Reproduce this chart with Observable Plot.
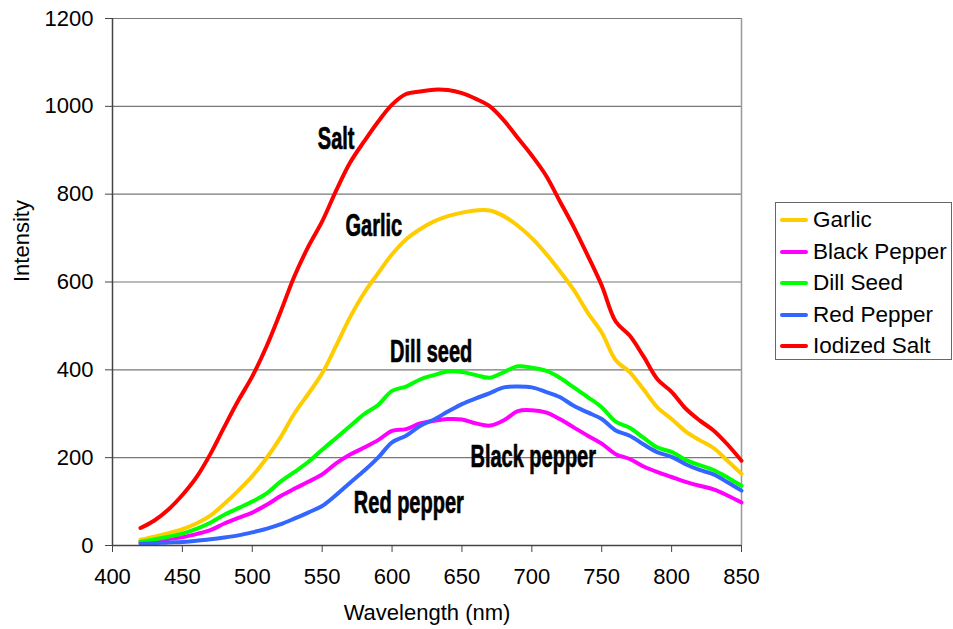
<!DOCTYPE html>
<html><head><meta charset="utf-8">
<script src="https://cdn.jsdelivr.net/npm/d3@7"></script>
<script src="https://cdn.jsdelivr.net/npm/@observablehq/plot@0.6"></script>
<style>
body{margin:0;background:#fff;}
#wrap{position:relative;width:953px;height:629px;font-family:"Liberation Sans",Arial,sans-serif;}
#legend{position:absolute;left:775px;top:202px;width:177px;height:158px;border:1px solid #666;box-sizing:border-box;background:#fff;}
.row{position:absolute;left:0;height:26px;display:flex;align-items:center;}
.sw{width:28px;height:4px;margin-left:4px;border-radius:2px;}
.lb{margin-left:5px;font-size:22.5px;color:#000;white-space:nowrap;}
</style>
</head><body>
<div id="wrap"></div>
<script>
const wavelengths = [420,430,440,450,460,470,480,490,500,510,520,530,540,550,560,570,580,590,600,610,620,630,640,650,660,670,680,690,700,710,720,730,740,750,760,770,780,790,800,810,820,830,840,850];
const garlic = [13,20,28,37,50,68,95,125,158,198,245,300,345,392,455,520,575,620,663,697,720,738,750,758,763,763,750,728,700,665,625,582,530,485,422,395,355,314,288,260,240,222,193,163];
const blackPepper = [8,11,15,19,26,35,50,63,75,92,112,129,145,162,187,207,223,240,261,265,278,284,288,287,278,273,285,306,308,303,288,269,250,232,208,197,180,167,156,145,136,128,114,98];
const dillSeed = [8,14,20,27,38,52,70,85,100,118,145,167,190,218,245,272,299,320,352,362,378,388,396,395,388,382,395,408,405,398,382,360,338,315,282,268,245,223,213,195,183,172,155,136];
const redPepper = [4,5,7,8,11,14,18,23,30,38,48,61,75,90,115,143,170,200,235,250,272,287,305,322,335,347,360,362,360,350,338,318,303,288,262,250,230,212,202,185,172,162,144,125];
const iodizedSalt = [40,57,82,115,155,208,270,330,385,452,530,612,680,738,808,872,920,965,1004,1028,1034,1038,1037,1030,1017,1000,968,928,888,843,784,725,660,592,510,478,430,378,350,312,285,262,230,193];

const seriesNames = ["Garlic","Black Pepper","Dill Seed","Red Pepper","Iodized Salt"];
const seriesValues = [garlic, blackPepper, dillSeed, redPepper, iodizedSalt];
const seriesColors = ["#FFCC00","#FF00FF","#00FF00","#3366FF","#FF0000"];

const xTicks = [400,450,500,550,600,650,700,750,800,850];
const yTicks = [0,200,400,600,800,1000,1200];

const annLabels = ["Salt","Garlic","Dill seed","Black pepper","Red pepper"];
const annX = [560,587,628,701,612];
const annY = [903,705,417,178,73];

const table = [];
seriesNames.forEach((name, s) => {
  wavelengths.forEach((w, i) => table.push({series: name, wl: w, v: seriesValues[s][i]}));
});
const ann = annLabels.map((t, i) => ({t, x: annX[i], y: annY[i]}));

const chart = Plot.plot({
  width: 953, height: 629,
  marginLeft: 112, marginRight: 212, marginTop: 18, marginBottom: 84,
  x: {domain: [400, 850]},
  y: {domain: [0, 1200]},
  color: {domain: seriesNames, range: seriesColors},
  style: {fontFamily: "'Liberation Sans', Arial, sans-serif", fontSize: "22px", color: "#000", background: "#fff", overflow: "visible"},
  marks: [
    Plot.gridY(yTicks, {stroke: "#777", strokeOpacity: 1, strokeWidth: 1.2}),
    Plot.ruleX([850], {stroke: "#999", strokeWidth: 1.5}),
    Plot.line(table, {x: "wl", y: "v", z: "series", stroke: "series", strokeWidth: 4, curve: "catmull-rom", strokeLinejoin: "round"}),
    Plot.ruleX([400], {stroke: "#444", strokeWidth: 1.5}),
    Plot.ruleY([0], {stroke: "#444", strokeWidth: 1.5}),
    Plot.axisY(yTicks, {tickSize: 7, tickPadding: 12, label: null, stroke: "#444", tickFormat: d => String(d)}),
    Plot.axisX(xTicks, {tickSize: 7, tickPadding: 16, label: null, stroke: "#444", tickFormat: d => String(d)}),
    Plot.text(ann, {x: "x", y: "y", text: "t", textAnchor: "middle", lineAnchor: "bottom", fontWeight: "bold", fontSize: 31, fill: "#000", stroke: "#000", strokeWidth: 0.7}),
    Plot.text(["Wavelength (nm)"], {frameAnchor: "bottom", dy: 74, lineAnchor: "bottom", fontSize: 22}),
    Plot.text(["Intensity"], {frameAnchor: "left", rotate: -90, dx: -84, lineAnchor: "bottom", fontSize: 22})
  ]
});

// condense the bold annotation labels horizontally
d3.select(chart).selectAll("text").each(function() {
  if (!annLabels.includes(this.textContent)) return;
  const xa = this.getAttribute("x");
  if (xa !== null) {
    const ya = this.getAttribute("y") || 0;
    this.removeAttribute("x"); this.removeAttribute("y");
    this.setAttribute("transform", `translate(${xa},${ya}) scale(0.645,1)`);
  } else {
    this.setAttribute("transform", (this.getAttribute("transform") || "") + " scale(0.645,1)");
  }
});

const wrap = document.getElementById("wrap");
wrap.appendChild(chart);

const legend = document.createElement("div");
legend.id = "legend";
seriesNames.forEach((name, i) => {
  const row = document.createElement("div");
  row.className = "row";
  row.style.top = (4 + i * 31.5) + "px";
  const sw = document.createElement("div");
  sw.className = "sw";
  sw.style.background = seriesColors[i];
  const lb = document.createElement("span");
  lb.className = "lb";
  lb.textContent = name;
  row.appendChild(sw); row.appendChild(lb);
  legend.appendChild(row);
});
wrap.appendChild(legend);
</script>
</body></html>
